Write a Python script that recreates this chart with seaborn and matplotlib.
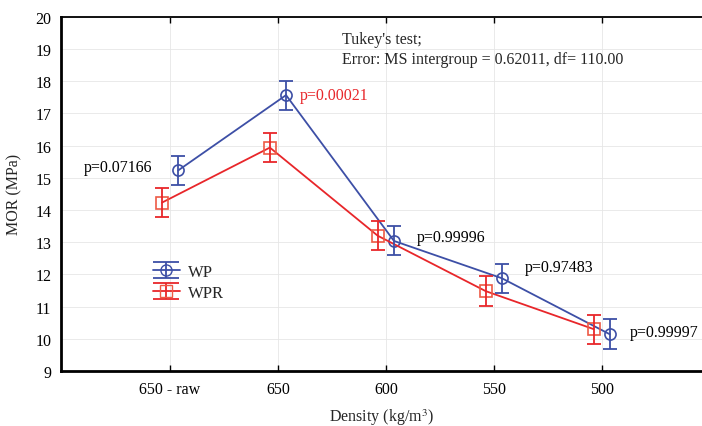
import numpy as np
import pandas as pd
import matplotlib
matplotlib.use("Agg")
import matplotlib.pyplot as plt
import seaborn as sns

# data
densities = ["650 - raw", "650", "600", "550", "500"]
wp_mor = [15.23, 17.57, 13.04, 11.88, 10.14]
wp_err = [0.46, 0.45, 0.45, 0.45, 0.46]
wpr_mor = [14.23, 15.94, 13.20, 11.48, 10.30]
wpr_err = [0.45, 0.45, 0.45, 0.46, 0.45]
p_values = ["p=0.07166", "p=0.00021", "p=0.99996", "p=0.97483", "p=0.99997"]
p_colors = ["black", "#e8262a", "black", "black", "black"]

sns.set_theme(style="white")
plt.rcParams['font.family'] = ['Liberation Serif', 'DejaVu Serif']
plt.rcParams['mathtext.fontset'] = 'stix'

blue = "#3d4fa6"
red = "#e8262a"
dodge = 0.075

idx = np.arange(len(densities))
df = pd.DataFrame({
    "pos": np.concatenate([idx + dodge, idx - dodge]),
    "mor": wp_mor + wpr_mor,
    "err": wp_err + wpr_err,
    "group": ["WP"] * 5 + ["WPR"] * 5,
})

fig = plt.figure(figsize=(7.02, 4.27), dpi=100)
ax = fig.add_axes([0.087, 0.129, 0.913, 0.829])

sns.lineplot(data=df, x="pos", y="mor", hue="group", style="group",
             markers={"WP": "o", "WPR": "s"}, dashes=False,
             palette={"WP": blue, "WPR": red}, legend=False,
             linewidth=1.3, markersize=8, ax=ax, zorder=3)
for line, c in zip(ax.lines, [blue, "#ee5a45"]):
    line.set_markerfacecolor("none")
    line.set_markeredgecolor(c)
    line.set_markeredgewidth(1.2)

handles = []
for name, c, mc in [("WP", blue, blue), ("WPR", red, "#ee5a45")]:
    sub = df[df["group"] == name]
    ax.errorbar(sub["pos"], sub["mor"], yerr=sub["err"], fmt="none",
                ecolor=c, elinewidth=1.3, capsize=5, capthick=1.3, zorder=3)
    h = ax.errorbar([np.nan], [np.nan], yerr=[0.45], fmt="-", marker="o" if name == "WP" else "s",
                    color=c, mec=mc, mfc="none", ms=8, lw=1.3, capsize=9.5, capthick=1.3)
    handles.append(h)

ax.legend(handles, ["WP", "WPR"], loc="center left", bbox_to_anchor=(0.12, 0.25),
          frameon=False, fontsize=12, handlelength=1.6, handletextpad=0.5,
          labelspacing=0.3)

# p-value labels
p_x = [-0.80, 1.20, 2.29, 3.29, 4.26]
p_y = [15.34, 17.56, 13.17, 12.24, 10.22]
for x, y, t, c in zip(p_x, p_y, p_values, p_colors):
    ax.text(x, y, t, color=c, fontsize=11.5, ha="left", va="center")

ax.text(1.59, 19.32, "Tukey's test;", fontsize=11.5, ha="left", va="center")
ax.text(1.59, 18.70, "Error: MS intergroup = 0.62011, df= 110.00", fontsize=11.5,
        ha="left", va="center")

ax.set_xlim(-1.01, 4.93)
ax.set_ylim(9, 20)
ax.set_xticks(idx)
ax.set_xticklabels(densities)
ax.set_yticks(range(9, 21))
ax.tick_params(axis="both", direction="in", labelsize=11.5, length=4, width=1,
               colors="black", top=True, bottom=True, left=False, pad=7)
ax.grid(True, color="#e6e6e6", linewidth=0.6)
ax.set_axisbelow(True)

ax.set_xlabel("Density (kg/m$^3$)", fontsize=11.5, labelpad=7)
ax.set_ylabel("MOR (MPa)", fontsize=11.5, labelpad=9)

for s in ["left", "bottom"]:
    ax.spines[s].set_color("black")
    ax.spines[s].set_linewidth(2)
ax.spines["top"].set_color("black")
ax.spines["top"].set_linewidth(1.3)
ax.spines["right"].set_visible(False)

fig.savefig("out.png", dpi=100)
